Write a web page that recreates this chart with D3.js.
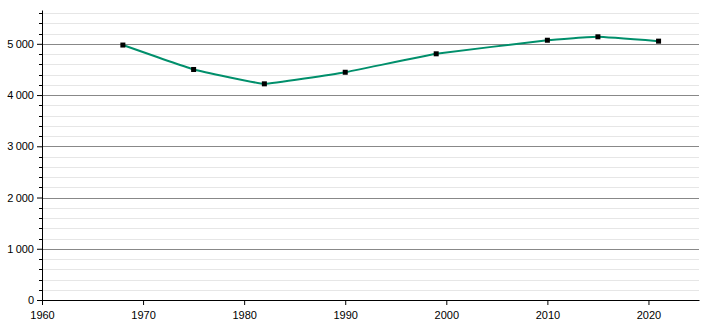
<!DOCTYPE html>
<html>
<head>
<meta charset="utf-8">
<script src="https://cdn.jsdelivr.net/npm/d3@7"></script>
<style>
  body { margin: 0; background: #fff; }
  svg { font-family: "Liberation Sans", Arial, sans-serif; }
</style>
</head>
<body>
<div id="chart"></div>
<script>
const years = [1968, 1975, 1982, 1990, 1999, 2010, 2015, 2021];
const population = [4976, 4499, 4219, 4445, 4805, 5070, 5137, 5052];
const xTicks = [1960, 1970, 1980, 1990, 2000, 2010, 2020];
const yTicks = [0, 1000, 2000, 3000, 4000, 5000];

const width = 710, height = 320;
const margin = { top: 10, right: 11, bottom: 20, left: 42 };

const svg = d3.select("#chart").append("svg")
    .attr("width", width)
    .attr("height", height);

const x = d3.scaleLinear()
    .domain([1960, 2025])
    .range([margin.left, width - margin.right]);

const y = d3.scaleLinear()
    .domain([0, 5660])
    .range([height - margin.bottom, margin.top]);

const fmt = v => d3.format(",")(v).replace(/,/g, "\u2009");

// minor grid every 200
const minor = d3.range(200, 5660, 200).filter(v => v % 1000 !== 0);
svg.append("g").selectAll("line").data(minor).join("line")
    .attr("x1", x(1960)).attr("x2", x(2025))
    .attr("y1", d => Math.round(y(d)) + 0.5).attr("y2", d => Math.round(y(d)) + 0.5)
    .attr("stroke", "#e6e6e6").attr("stroke-width", 1);

svg.append("g").selectAll("line").data(yTicks.filter(d => d > 0)).join("line")
    .attr("x1", x(1960)).attr("x2", x(2025))
    .attr("y1", d => Math.round(y(d)) + 0.5).attr("y2", d => Math.round(y(d)) + 0.5)
    .attr("stroke", "#888").attr("stroke-width", 1);

// y minor ticks
svg.append("g").selectAll("line").data(minor).join("line")
    .attr("x1", x(1960) - 3).attr("x2", x(1960))
    .attr("y1", d => Math.round(y(d)) + 0.5).attr("y2", d => Math.round(y(d)) + 0.5)
    .attr("stroke", "#000");

const yAxis = svg.append("g")
    .attr("transform", `translate(${x(1960)},0)`)
    .call(d3.axisLeft(y).tickValues(yTicks).tickFormat(fmt).tickSize(5).tickSizeOuter(0));
yAxis.selectAll("text").attr("font-size", 11).attr("fill", "#000")
    .attr("font-family", "Liberation Sans, Arial, sans-serif");

const xAxis = svg.append("g")
    .attr("transform", `translate(0,${y(0)})`)
    .call(d3.axisBottom(x).tickValues(xTicks).tickFormat(d3.format("d")).tickSize(5).tickSizeOuter(0));
xAxis.selectAll("text").attr("font-size", 11).attr("fill", "#000")
    .attr("font-family", "Liberation Sans, Arial, sans-serif").attr("y", 9).attr("dy", "0.9em");

const data = years.map((yr, i) => ({ year: yr, value: population[i] }));

const line = d3.line()
    .x(d => x(d.year))
    .y(d => y(d.value))
    .curve(d3.curveCardinal.tension(0.75));

svg.append("path")
    .datum(data)
    .attr("fill", "none")
    .attr("stroke", "#008f6b")
    .attr("stroke-width", 2)
    .attr("d", line);

svg.append("g").selectAll("rect").data(data).join("rect")
    .attr("x", d => x(d.year) - 2.5)
    .attr("y", d => y(d.value) - 2.5)
    .attr("width", 5).attr("height", 5)
    .attr("fill", "#000");
</script>
</body>
</html>
